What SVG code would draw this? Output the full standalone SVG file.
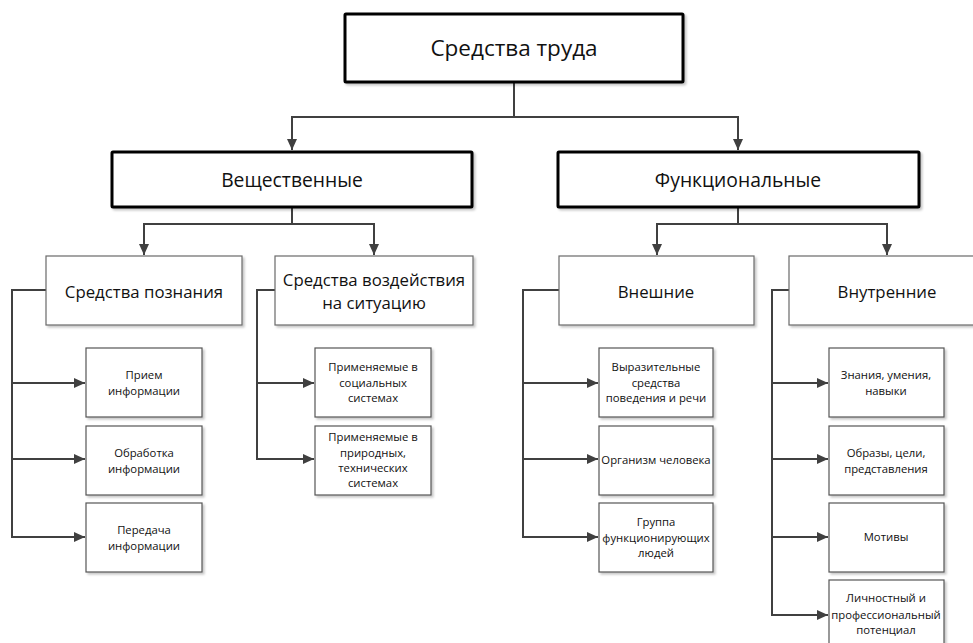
<svg xmlns="http://www.w3.org/2000/svg" width="973" height="643" viewBox="0 0 973 643">
<style>
text{font-family:"Open Sans","Noto Sans","DejaVu Sans",sans-serif;fill:#111;text-anchor:middle}
.b1 rect{fill:#fff;stroke:#000;stroke-width:3}
.b2 rect{fill:#fff;stroke:#6a6a6a;stroke-width:1.2}
.b3 rect{fill:#fff;stroke:#555;stroke-width:1.2}
.t1{font-size:22.5px}
.t2{font-size:19.3px}
.t3{font-size:16.8px}
.t4{font-size:11.3px}
#conn path{fill:none;stroke:#404040;stroke-width:2}
</style>
<defs>
<filter id="sh" x="-10%" y="-10%" width="130%" height="130%"><feDropShadow dx="2" dy="2" stdDeviation="1" flood-color="#000" flood-opacity="0.22"/></filter>
<marker id="ar" markerUnits="userSpaceOnUse" markerWidth="12" markerHeight="12" viewBox="0 0 12 12" refX="11" refY="6" orient="auto"><path d="M0,1 L11,6 L0,11 Z" fill="#404040"/></marker>
</defs>
<rect width="973" height="643" fill="#fff"/>
<g id="conn">
<path d="M514,82 V117 H292 V150" marker-end="url(#ar)"/>
<path d="M514,117 H738 V150" marker-end="url(#ar)"/>
<path d="M292,207 V224 H144 V255" marker-end="url(#ar)"/>
<path d="M292,224 H374 V255" marker-end="url(#ar)"/>
<path d="M738,207 V224 H657 V255" marker-end="url(#ar)"/>
<path d="M738,224 H887 V255" marker-end="url(#ar)"/>
<path d="M46,290 H12 V383 H85" marker-end="url(#ar)"/>
<path d="M12,383 V459 H85" marker-end="url(#ar)"/>
<path d="M12,459 V537 H85" marker-end="url(#ar)"/>
<path d="M275,290 H257 V383 H314" marker-end="url(#ar)"/>
<path d="M257,383 V459 H314" marker-end="url(#ar)"/>
<path d="M559,290 H523 V383 H598" marker-end="url(#ar)"/>
<path d="M523,383 V459 H598" marker-end="url(#ar)"/>
<path d="M523,459 V537 H598" marker-end="url(#ar)"/>
<path d="M789,290 H772 V383 H828" marker-end="url(#ar)"/>
<path d="M772,383 V459 H828" marker-end="url(#ar)"/>
<path d="M772,459 V537 H828" marker-end="url(#ar)"/>
<path d="M772,537 V615 H828" marker-end="url(#ar)"/>
</g>
<g id="root" class="b1"><rect x="345" y="14" width="338" height="68" rx="1" filter="url(#sh)"/><text class="t1" x="514" y="56">Средства труда</text></g>
<g id="veshch" class="b1"><rect x="112" y="152" width="360" height="55" rx="1" filter="url(#sh)"/><text class="t2" x="292" y="187">Вещественные</text></g>
<g id="funk" class="b1"><rect x="558" y="152" width="361" height="55" rx="1" filter="url(#sh)"/><text class="t2" x="738" y="187">Функциональные</text></g>
<g id="poznan" class="b2"><rect x="46" y="256" width="196" height="69" filter="url(#sh)"/><text class="t3" x="144" y="298">Средства познания</text></g>
<g id="vozd" class="b2"><rect x="275" y="256" width="198" height="69" filter="url(#sh)"/><text class="t3" x="374" y="286">Средства воздействия</text><text class="t3" x="374" y="309">на ситуацию</text></g>
<g id="vnesh" class="b2"><rect x="559" y="256" width="195" height="69" filter="url(#sh)"/><text class="t3" x="656" y="298">Внешние</text></g>
<g id="vnutr" class="b2"><rect x="789" y="256" width="196" height="69" filter="url(#sh)"/><text class="t3" x="887" y="298">Внутренние</text></g>
<g id="l1" class="b3"><rect x="86" y="348" width="116" height="69" filter="url(#sh)"/><text class="t4" x="144" y="379">Прием</text><text class="t4" x="144" y="395">информации</text></g>
<g id="l2" class="b3"><rect x="86" y="426" width="116" height="69" filter="url(#sh)"/><text class="t4" x="144" y="457">Обработка</text><text class="t4" x="144" y="473">информации</text></g>
<g id="l3" class="b3"><rect x="86" y="503" width="116" height="69" filter="url(#sh)"/><text class="t4" x="144" y="534">Передача</text><text class="t4" x="144" y="550">информации</text></g>
<g id="l4" class="b3"><rect x="315" y="348" width="116" height="69" filter="url(#sh)"/><text class="t4" x="373" y="371">Применяемые в</text><text class="t4" x="373" y="387">социальных</text><text class="t4" x="373" y="402">системах</text></g>
<g id="l5" class="b3"><rect x="315" y="426" width="116" height="69" filter="url(#sh)"/><text class="t4" x="373" y="441">Применяемые в</text><text class="t4" x="373" y="457">природных,</text><text class="t4" x="373" y="472">технических</text><text class="t4" x="373" y="487">системах</text></g>
<g id="l6" class="b3"><rect x="599" y="348" width="114" height="69" filter="url(#sh)"/><text class="t4" x="656" y="371">Выразительные</text><text class="t4" x="656" y="387">средства</text><text class="t4" x="656" y="402">поведения и речи</text></g>
<g id="l7" class="b3"><rect x="599" y="426" width="114" height="69" filter="url(#sh)"/><text class="t4" x="656" y="464">Организм человека</text></g>
<g id="l8" class="b3"><rect x="599" y="503" width="114" height="69" filter="url(#sh)"/><text class="t4" x="656" y="526">Группа</text><text class="t4" x="656" y="542">функционирующих</text><text class="t4" x="656" y="557">людей</text></g>
<g id="l9" class="b3"><rect x="829" y="348" width="115" height="69" filter="url(#sh)"/><text class="t4" x="886" y="379">Знания, умения,</text><text class="t4" x="886" y="395">навыки</text></g>
<g id="l10" class="b3"><rect x="829" y="426" width="115" height="69" filter="url(#sh)"/><text class="t4" x="886" y="457">Образы, цели,</text><text class="t4" x="886" y="473">представления</text></g>
<g id="l11" class="b3"><rect x="829" y="503" width="115" height="69" filter="url(#sh)"/><text class="t4" x="886" y="541">Мотивы</text></g>
<g id="l12" class="b3"><rect x="829" y="580" width="115" height="70" filter="url(#sh)"/><text class="t4" x="886" y="602">Личностный и</text><text class="t4" x="886" y="619">профессиональный</text><text class="t4" x="886" y="634">потенциал</text></g>
</svg>
